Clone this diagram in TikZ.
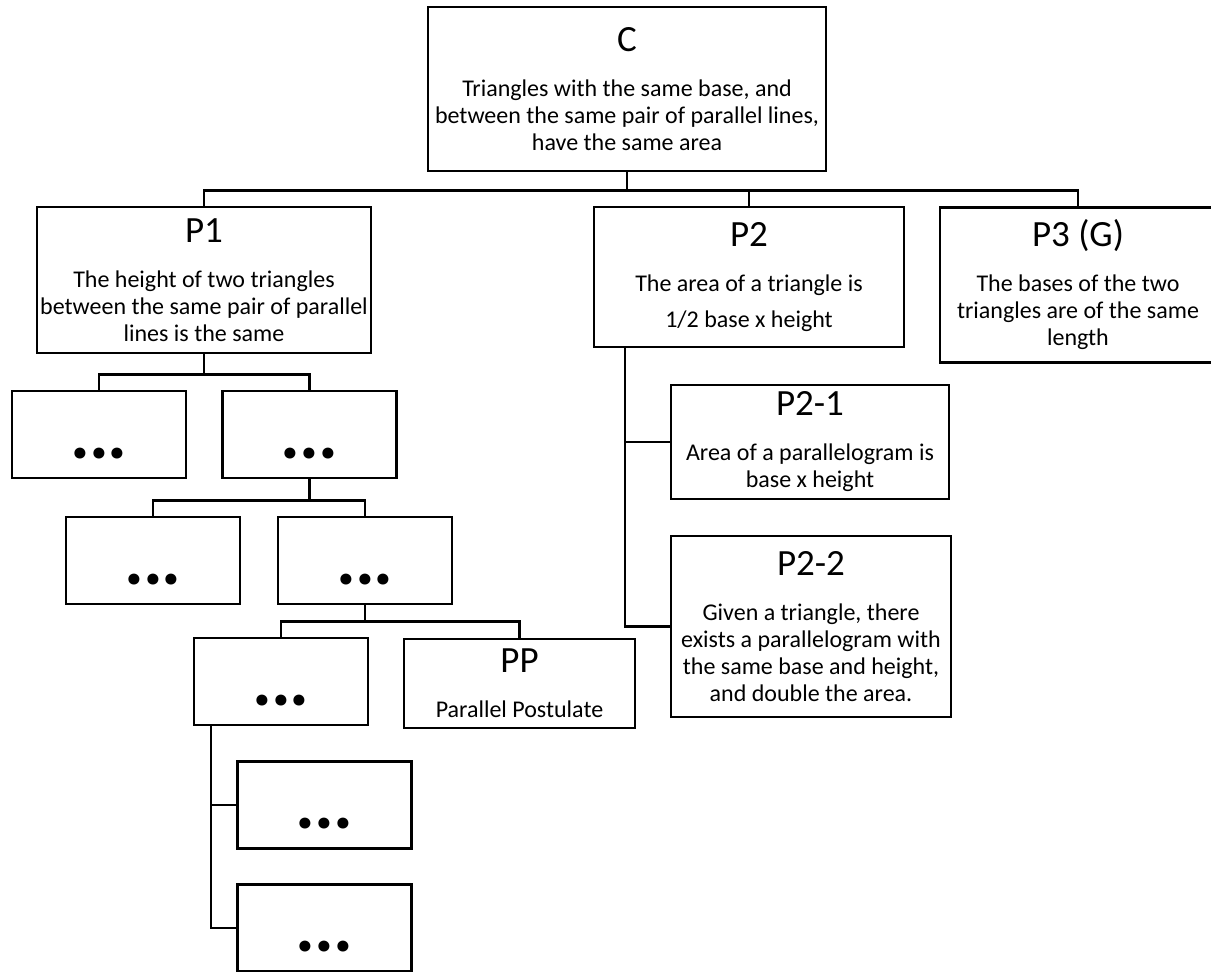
\documentclass[tikz,border=0pt]{standalone}
\usepackage{fontspec}
\setmainfont{Carlito}
\newcommand{\ttl}[1]{{\fontsize{37}{37}\selectfont #1}\\[18pt]}
\newcommand{\more}{{\fontsize{74}{74}\selectfont\bfseries .\kern-1pt.\kern-1pt.}}
\begin{document}
\begin{tikzpicture}[x=1pt,y=-1pt,
  box/.style n args={2}{draw,line width=2.8pt,align=center,inner xsep=0pt,
    minimum width=#1pt,minimum height=#2pt,font=\fontsize{24}{27}\selectfont},
  dots/.style={box={174}{87},text height=47pt,text depth=0pt},
  link/.style={draw,line width=2.8pt}]
\useasboundingbox (0,0) rectangle (1211,972);
\node[box={398}{164}] (C) at (627,89) {\ttl{C}Triangles with the same base, and\\between the same pair of parallel lines,\\have the same area};
\node[box={334}{146}] (P1) at (204,280) {\ttl{P1}The height of two triangles\\between the same pair of parallel\\lines is the same};
\node[box={310}{140}] (P2) at (749,277) {\ttl{P2}The area of a triangle is\\[9pt]1/2 base x height};
\node[box={276}{155}] (P3) at (1078,285) {\ttl{P3 (G)}The bases of the two\\triangles are of the same\\length};
\node[dots] (a) at (99,434.5) {\more};
\node[dots] (b) at (309.5,434.5) {\more};
\node[dots] (c) at (153,560.5) {\more};
\node[dots] (d) at (365,560.5) {\more};
\node[dots] (e) at (281,681.5) {\more};
\node[box={231}{89}] (PP) at (519.5,683.5) {\ttl{PP}Parallel Postulate};
\node[dots] (f) at (324.5,805) {\more};
\node[dots] (g) at (324.5,928) {\more};
\node[box={278}{114}] (P21) at (810,442) {\ttl{P2-1}Area of a parallelogram is\\base x height};
\node[box={280}{181}] (P22) at (811,626.5) {\ttl{P2-2}Given a triangle, there\\exists a parallelogram with\\the same base and height,\\and double the area.};
\coordinate (P2s) at ([xshift=-124pt]P2.south);
\coordinate (es) at ([xshift=-70pt]e.south);

\path[link] (C.south) -- ++(0,18) -| (P1.north);
\path[link] (C.south) -- ++(0,18) -| (P2.north);
\path[link] (C.south) -- ++(0,18) -| (P3.north);
\path[link] (P1.south) -- ++(0,20) -| (a.north);
\path[link] (P1.south) -- ++(0,20) -| (b.north);
\path[link] (b.south) -- ++(0,21) -| (c.north);
\path[link] (b.south) -- ++(0,21) -| (d.north);
\path[link] (d.south) -- ++(0,16) -| (e.north);
\path[link] (d.south) -- ++(0,16) -| (PP.north);
\path[link] (es) |- (f.west);
\path[link] (es) |- (g.west);
\path[link] (P2s) |- (P21.west);
\path[link] (P2s) |- (P22.west);
\end{tikzpicture}
\end{document}
